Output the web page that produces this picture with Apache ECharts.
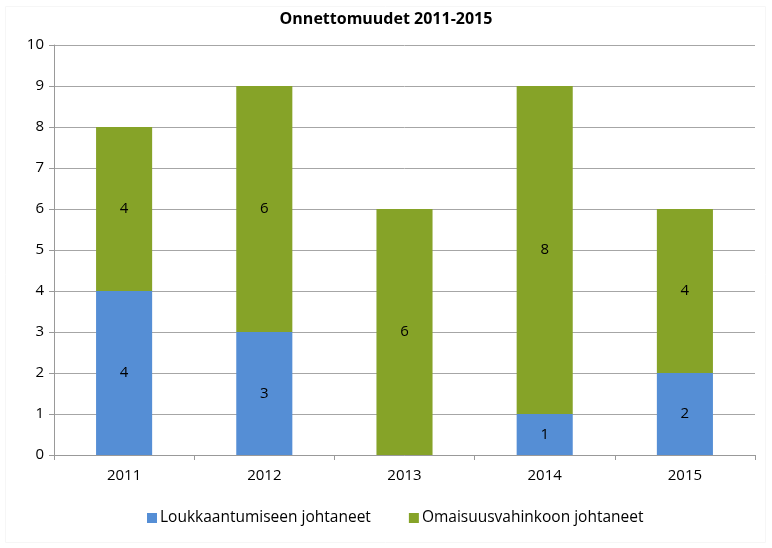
<!DOCTYPE html>
<html><head><meta charset="utf-8">
<script src="https://cdn.jsdelivr.net/npm/echarts@6/dist/echarts.min.js"></script>
<style>html,body{margin:0;padding:0;background:#fff}#c{width:772px;height:548px}</style>
</head><body><div id="c"></div>
<script>
const categories = ['2011', '2012', '2013', '2014', '2015'];
const injury = [4, 3, 0, 1, 2];
const property = [4, 6, 6, 8, 4];
const seriesNames = ['Loukkaantumiseen johtaneet', 'Omaisuusvahinkoon johtaneet'];
const yTicks = {min: 0, max: 10, interval: 1};

const font = '"Open Sans", "Liberation Sans", sans-serif';
const chart = echarts.init(document.getElementById('c'));
const lbl = {show: true, position: 'inside', color: '#000', fontSize: 15, fontFamily: font,
  formatter: p => p.value === 0 ? '' : p.value};
chart.setOption({
  animation: false,
  title: {text: 'Onnettomuudet 2011-2015', left: 'center', top: 6,
    textStyle: {fontSize: 16, fontWeight: 'bold', color: '#000', fontFamily: font}},
  grid: {left: 54, right: 17, top: 45, bottom: 93, containLabel: false},
  legend: {bottom: 17, left: 142, itemWidth: 10, itemHeight: 10, itemGap: 38, icon: 'rect',
    textStyle: {fontSize: 15.5, color: '#000', fontFamily: font, padding: [0,0,0,-2]}},
  xAxis: {type: 'category', data: categories, boundaryGap: true,
    axisLine: {lineStyle: {color: '#999', width: 1}},
    axisTick: {show: true, length: 5, alignWithLabel: false, lineStyle: {color: '#999'}},
    axisLabel: {fontSize: 15, color: '#000', margin: 13, fontFamily: font}},
  yAxis: {type: 'value', min: yTicks.min, max: yTicks.max, interval: yTicks.interval,
    axisLine: {show: true, lineStyle: {color: '#999'}},
    axisTick: {show: true, length: 5, lineStyle: {color: '#999'}},
    splitLine: {lineStyle: {color: '#a6a6a6', width: 1}},
    axisLabel: {fontSize: 15, color: '#000', margin: 10, fontFamily: font}},
  series: [
    {name: seriesNames[0], type: 'bar', stack: 's', data: injury, barWidth: '40%',
      itemStyle: {color: '#558ED5'}, label: lbl},
    {name: seriesNames[1], type: 'bar', stack: 's', data: property, barWidth: '40%',
      itemStyle: {color: '#86A328'}, label: lbl}
  ],
  graphic: [{type: 'rect', shape: {x: 5.5, y: 6.5, width: 760, height: 536},
    style: {fill: 'none', stroke: '#f6f6f6', lineWidth: 1}, silent: true}]
});
</script></body></html>
